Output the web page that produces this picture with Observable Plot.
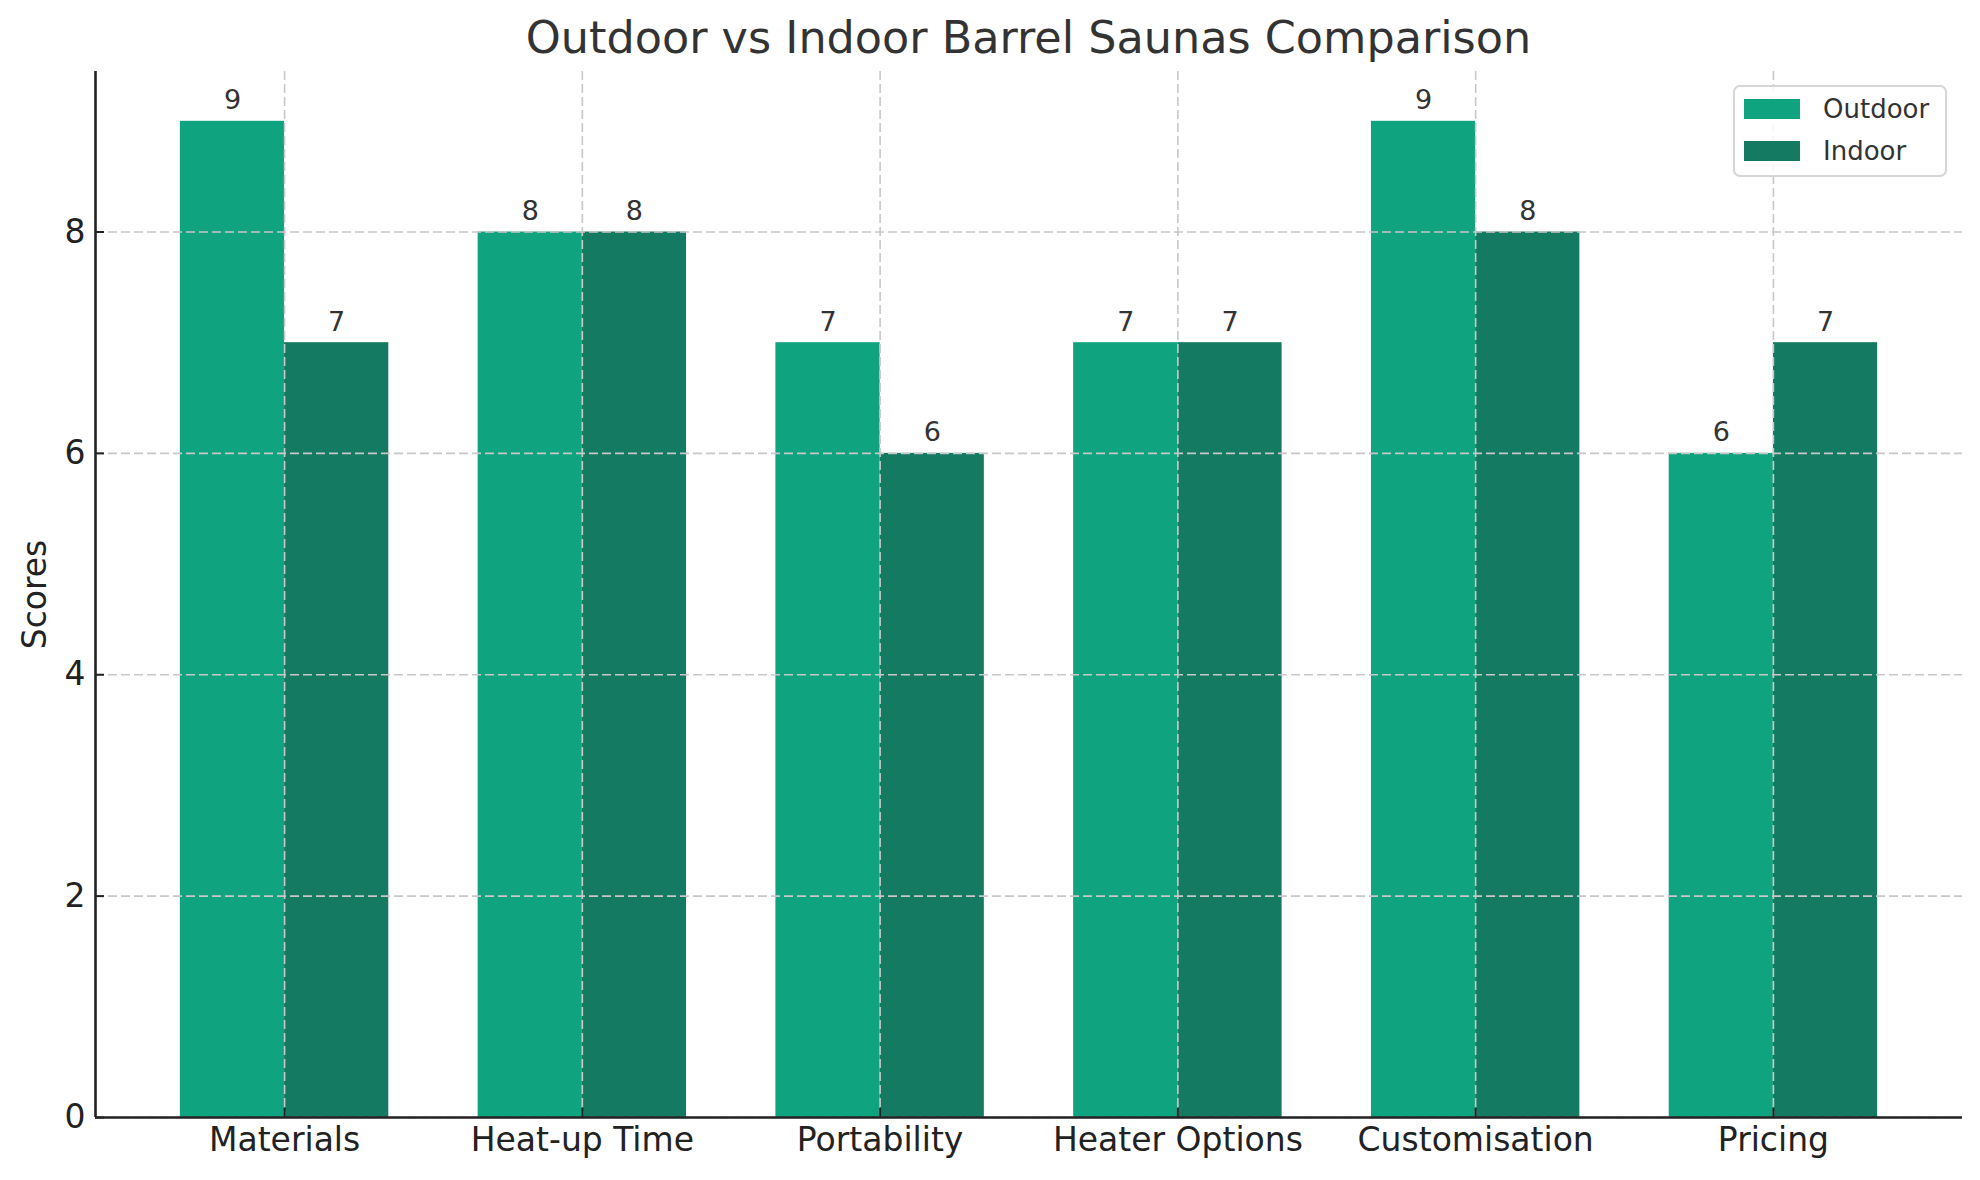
<!DOCTYPE html>
<html>
<head>
<meta charset="utf-8">
<script src="https://cdn.jsdelivr.net/npm/d3@7"></script>
<script src="https://cdn.jsdelivr.net/npm/@observablehq/plot@0.6"></script>
<style>
  html, body { margin: 0; padding: 0; background: #fff; }
  #wrap { position: relative; width: 1980px; height: 1180px; font-family: "DejaVu Sans", sans-serif; }
  #title { position: absolute; left: 95px; width: 1867px; top: 10px; text-align: center; font-size: 44.5px; color: #333; line-height: 56px; }
  #legend { position: absolute; left: 1733px; top: 85px; width: 210px; height: 88px; border: 2px solid #d6d6d6; border-radius: 7px; background: rgba(255,255,255,0.85); }
  .row { position: absolute; left: 0; height: 30px; display: flex; align-items: center; }
  .sw { width: 56px; height: 20px; margin-left: 9px; }
  .lab { margin-left: 23px; font-size: 26px; color: #333; }
</style>
</head>
<body>
<div id="wrap">
  <div id="chart"></div>
  <div id="title">Outdoor vs Indoor Barrel Saunas Comparison</div>
  <div id="legend"></div>
</div>
<script>
const categories = ["Materials", "Heat-up Time", "Portability", "Heater Options", "Customisation", "Pricing"];
const outdoor = [9, 8, 7, 7, 9, 6];
const indoor = [7, 8, 6, 7, 8, 7];
const seriesNames = ["Outdoor", "Indoor"];
const seriesColors = ["#10a37f", "#157a62"];
const yTicks = [0, 2, 4, 6, 8];

const barW = 0.35;
const data = [];
categories.forEach((c, i) => {
  data.push({i, series: "Outdoor", value: outdoor[i], x1: i - barW, x2: i});
  data.push({i, series: "Indoor", value: indoor[i], x1: i, x2: i + barW});
});

const xPad = 0.05 * (categories.length - 1 + 2 * barW);
const xDomain = [-barW - xPad, categories.length - 1 + barW + xPad];
const yMax = d3.max([...outdoor, ...indoor]) * 1.05;

const gridStyle = {stroke: "#c8c8c8", strokeOpacity: 1, strokeWidth: 1.6, strokeDasharray: "9,4"};

const chart = Plot.plot({
  width: 1980,
  height: 1180,
  marginTop: 71,
  marginBottom: 63,
  marginLeft: 95,
  marginRight: 18,
  style: {fontFamily: "DejaVu Sans, sans-serif", background: "white"},
  x: {type: "linear", domain: xDomain},
  y: {domain: [0, yMax]},
  color: {domain: seriesNames, range: seriesColors},
  marks: [
    Plot.rect(data, {x1: "x1", x2: "x2", y1: 0, y2: "value", fill: "series"}),
    Plot.gridX(d3.range(categories.length), gridStyle),
    Plot.gridY(yTicks, gridStyle),
    Plot.axisY({ticks: yTicks, tickSize: 0, tickPadding: 10, fontSize: 33, fill: "#222", label: null}),
    Plot.axisY({ticks: yTicks, tickSize: 9, dx: 9, text: null, stroke: "#222", strokeWidth: 2, label: null}),
    Plot.axisX({ticks: d3.range(categories.length), tickFormat: i => categories[i], tickSize: 0, tickPadding: 10, fontSize: 33, fill: "#222", label: null}),
    Plot.axisX({ticks: d3.range(categories.length), tickSize: 9, dy: -9, text: null, stroke: "#222", strokeWidth: 2, label: null}),
    Plot.ruleY([0], {stroke: "#222", strokeWidth: 2.6}),
    Plot.ruleX([xDomain[0]], {stroke: "#222", strokeWidth: 2.6}),
    Plot.text(data, {x: d => (d.x1 + d.x2) / 2, y: "value", text: d => String(d.value), textAnchor: "middle", lineAnchor: "bottom", dy: -12, fontSize: 27, fill: "#333"}),
    Plot.text(["Scores"], {frameAnchor: "left", dx: -60, rotate: -90, textAnchor: "middle", fontSize: 33, fill: "#222"})
  ]
});
document.getElementById("chart").appendChild(chart);

const legend = document.getElementById("legend");
seriesNames.forEach((s, k) => {
  const row = document.createElement("div");
  row.className = "row";
  row.style.top = (7 + k * 42) + "px";
  const sw = document.createElement("div");
  sw.className = "sw";
  sw.style.background = seriesColors[k];
  const lab = document.createElement("div");
  lab.className = "lab";
  lab.textContent = s;
  row.appendChild(sw);
  row.appendChild(lab);
  legend.appendChild(row);
});
</script>
</body>
</html>
